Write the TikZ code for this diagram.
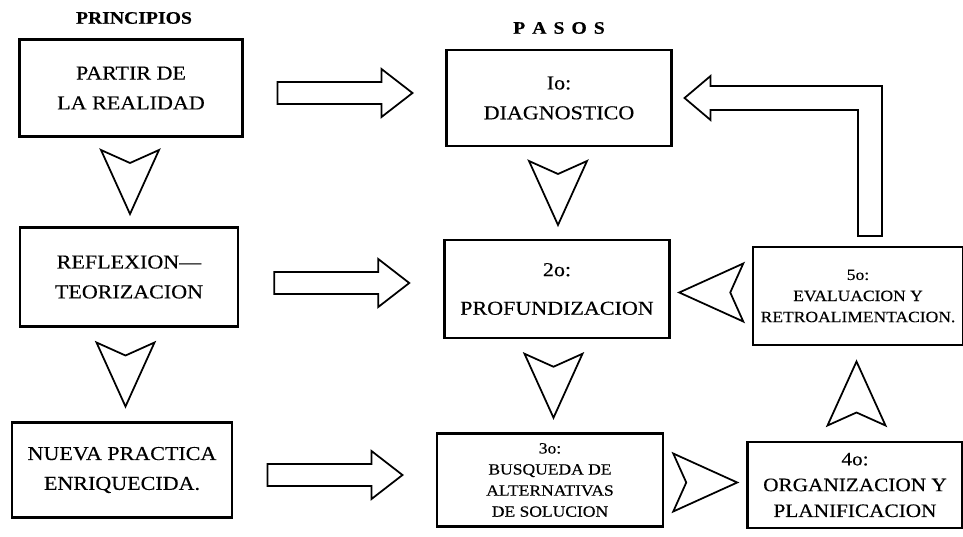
\documentclass[tikz,border=0pt]{standalone}
\usepackage{fontspec}
\setmainfont{Liberation Serif}[FakeStretch=1.12,FakeBold=0.35]
\usetikzlibrary{calc}

\tikzset{
  vhead/.pic={\draw[line width=1pt,line join=miter]
    (32,0) -- (-32,29) -- (-19,0) -- (-32,-29) -- cycle;},
  fatarrow/.pic={\draw[line width=1pt,line join=miter]
    (-67,-11) -- (37,-11) -- (37,-24) -- (68,0) -- (37,24) -- (37,11) -- (-67,11) -- cycle;}
}

\begin{document}
\begin{tikzpicture}[x=0.02cm,y=-0.02cm,thick,
  box/.style={draw,line width=1.2pt,align=center,inner sep=2pt,
  font=\fontsize{11.2}{17}\selectfont,minimum width=4.45cm,minimum height=1.94cm},
  small box/.style={box,font=\fontsize{8.9}{12}\selectfont},
  title/.style={font=\bfseries\fontsize{10}{12}\selectfont}]

  \useasboundingbox (0,0) rectangle (963,537);

  \node[title] (principios) at (134,18) {PRINCIPIOS};
  \node[title] (pasos) at (559,28) {P\kern4pt A\kern4pt S\kern4pt O\kern4pt S};

  % principios
  \node[box,minimum width=4.46cm] (partir) at (131,88) {PARTIR DE\\LA REALIDAD};
  \node[box,minimum width=4.36cm,minimum height=1.98cm] (reflexion) at (129,277) {REFLEXION---\\TEORIZACION};
  \node[box,minimum width=4.4cm,minimum height=1.9cm] (nueva) at (122,470) {NUEVA PRACTICA\\ENRIQUECIDA.};

  % pasos
  \node[box,minimum width=4.5cm,minimum height=1.92cm] (diagnostico) at (559,98) {Io:\\DIAGNOSTICO};
  \node[box,minimum width=4.5cm,minimum height=1.96cm] (profundizacion) at (557,289) {2o:\\[5pt]PROFUNDIZACION};
  \node[small box,minimum width=4.52cm,minimum height=1.86cm] (busqueda) at (550,480) {3o:\\BUSQUEDA DE\\ALTERNATIVAS\\DE SOLUCION};
  \node[box,font=\fontsize{10.8}{14.7}\selectfont,minimum width=4.3cm,minimum height=1.72cm] (organizacion) at (855,485) {4o:\\ORGANIZACION Y\\PLANIFICACION};
  \node[small box,minimum width=4.2cm,minimum height=1.96cm] (evaluacion) at (858,296) {5o:\\EVALUACION Y\\RETROALIMENTACION.};

  % flechas anchas
  \pic at ($(partir.east)!.5!(diagnostico.west)$) {fatarrow};
  \pic at ($(reflexion.east)!.5!(profundizacion.west)$) {fatarrow};
  \pic at ($(nueva.east)!.5!(busqueda.west)$) {fatarrow};

  % puntas huecas
  \pic[rotate=-90] at ($(partir.south)!.5!(reflexion.north)$) {vhead};
  \pic[rotate=-90] at ($(reflexion.south)!.5!(nueva.north)$) {vhead};
  \pic[rotate=-90] at ($(diagnostico.south)!.5!(profundizacion.north)$) {vhead};
  \pic[rotate=-90] at ($(profundizacion.south)!.5!(busqueda.north)$) {vhead};
  \pic at ($(busqueda.east)!.5!(organizacion.west)$) {vhead};
  \pic[rotate=90] at ($(organizacion.north)!.5!(evaluacion.south)$) {vhead};
  \pic[rotate=180] at ($(evaluacion.west)!.5!(profundizacion.east)$) {vhead};

  % retorno de 5o a 1o
  \draw[line width=1pt,line join=miter] ($(diagnostico.east)+(12,0)$) -- ++(26,-22) -- ++(0,10)
    -| ($(evaluacion.north)+(24,-10)$) -- ++(-24,0) |- ($(diagnostico.east)+(38,12)$) -- ++(0,10) -- cycle;
\end{tikzpicture}
\end{document}
